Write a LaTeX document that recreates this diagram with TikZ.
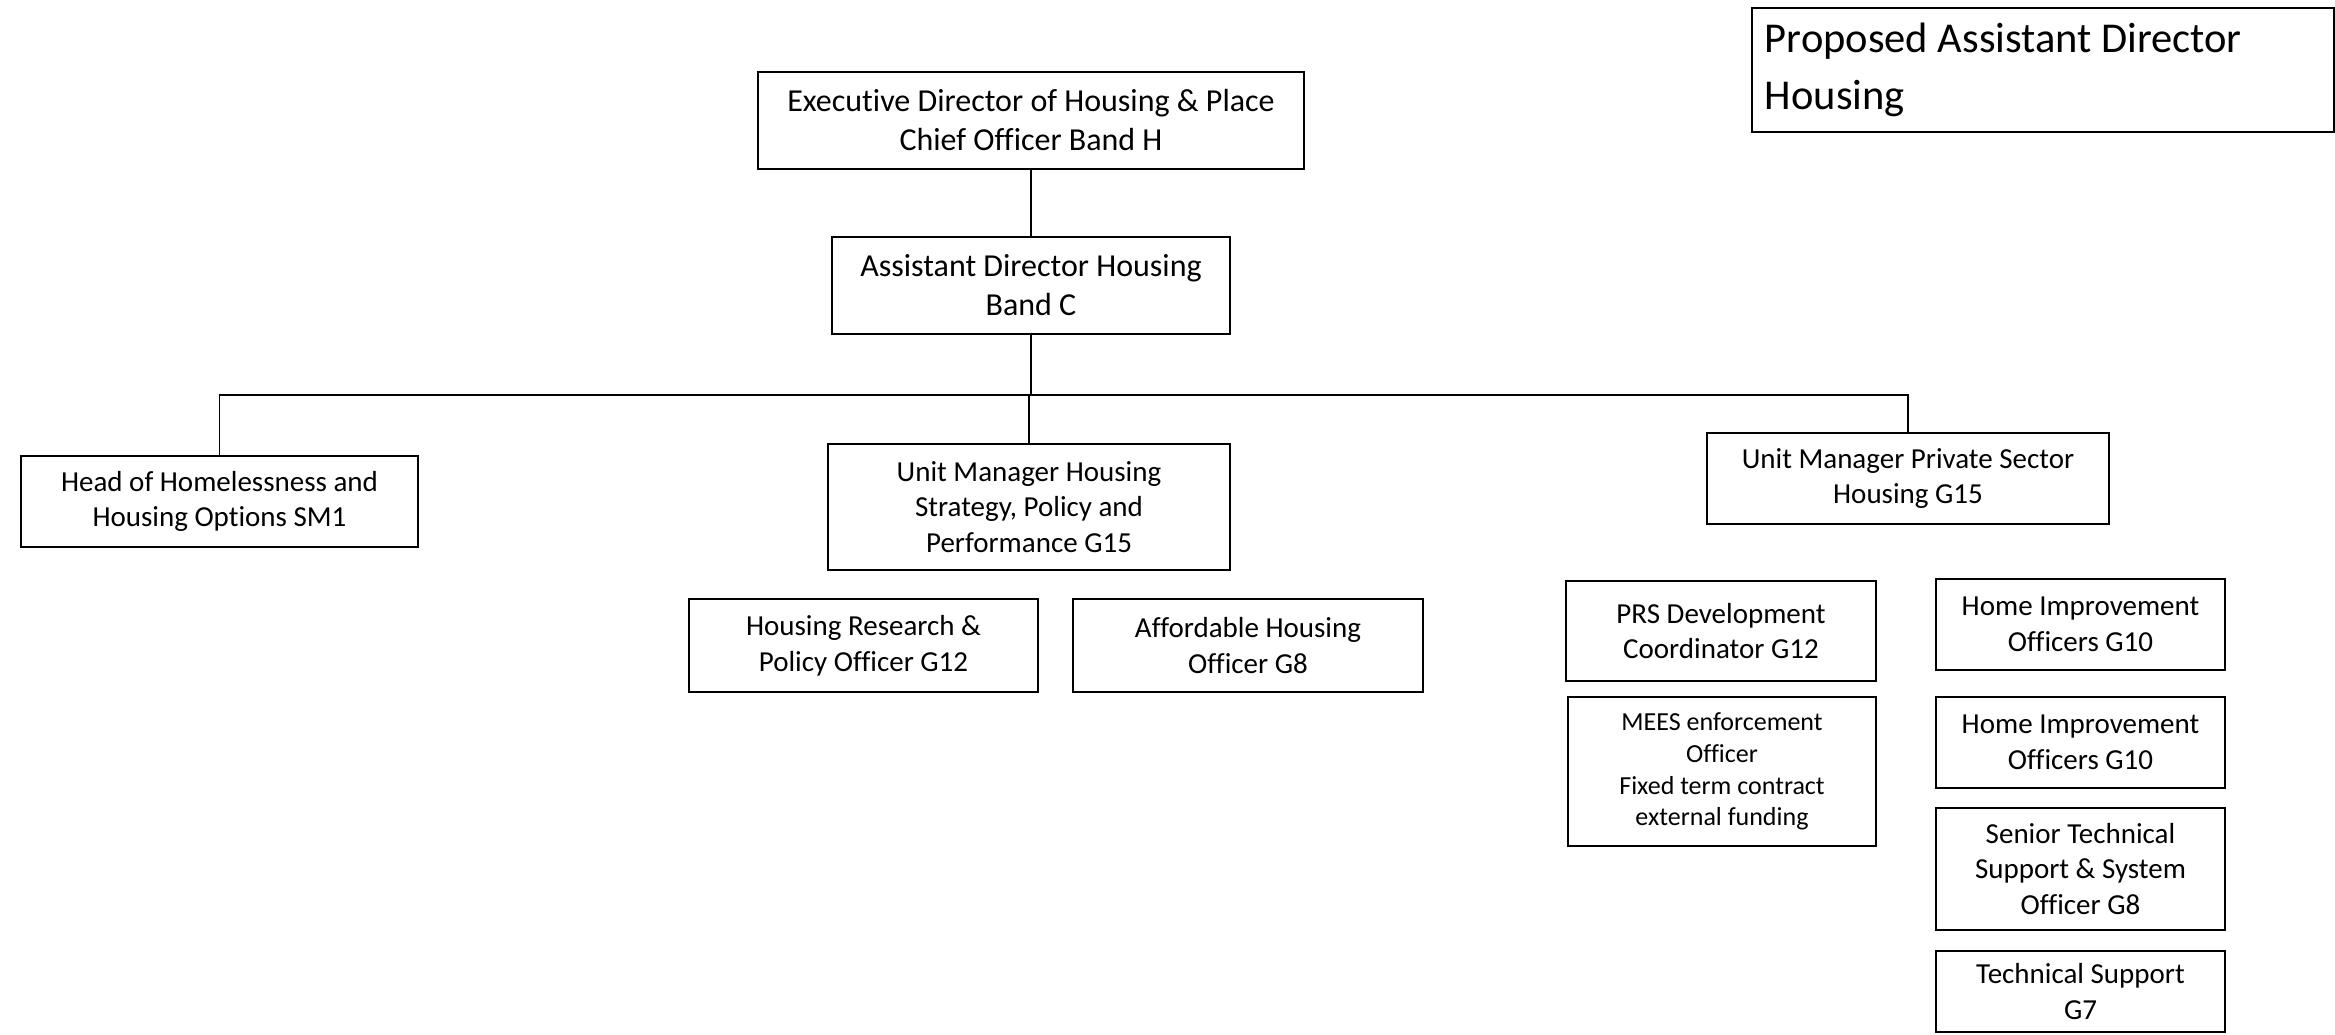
\documentclass[tikz,border=0pt]{standalone}
\usepackage{fontspec}
\setmainfont{Carlito}[Ligatures=NoCommon]
\begin{document}
\begin{tikzpicture}[x=1pt,y=-1pt,
  box/.style={draw=black,line width=1.8pt,rectangle,inner sep=0pt,align=center,text=black},
  big/.style={font=\fontsize{32}{39}\selectfont},
  mid/.style={font=\fontsize{29}{35.6}\selectfont},
  small/.style={font=\fontsize{26}{31.7}\selectfont},
  conn/.style={draw=black,line width=1.3pt}]
\useasboundingbox (0,0) rectangle (2335,1035);
\node[box,big,minimum width=546pt,minimum height=97pt] (exec) at (1031,120.5) {Executive Director of Housing \& Place\\Chief Officer Band H};
\node[box,big,minimum width=398pt,minimum height=97pt] (asst) at (1031,285.5) {Assistant Director Housing\\Band C};
\node[box,mid,minimum width=397pt,minimum height=91pt] (head) at (219.5,501.5) {Head of Homelessness and\\Housing Options SM1};
\node[box,mid,minimum width=402pt,minimum height=126pt] (umh) at (1029,507) {Unit Manager Housing\\Strategy, Policy and\\Performance G15};
\node[box,mid,minimum width=349pt,minimum height=93pt] (hrp) at (863.5,645.5) {Housing Research \&\\Policy Officer G12};
\node[box,mid,minimum width=350pt,minimum height=93pt] (aff) at (1248,645.5) {Affordable Housing\\Officer G8};
\node[box,mid,minimum width=402pt,minimum height=91pt] (umps) at (1908,478.5) {Unit Manager Private Sector\\Housing G15};
\node[box,mid,minimum width=310pt,minimum height=100pt] (prs) at (1721,631) {PRS Development\\Coordinator G12};
\node[box,small,minimum width=308pt,minimum height=149pt] (mees) at (1722,771.5) {MEES enforcement\\Officer\\Fixed term contract\\external funding};
\node[box,mid,minimum width=289pt,minimum height=91pt] (hi1) at (2080.5,624.5) {Home Improvement\\Officers G10};
\node[box,mid,minimum width=289pt,minimum height=91pt] (hi2) at (2080.5,742.5) {Home Improvement\\Officers G10};
\node[box,mid,minimum width=289pt,minimum height=122pt] (sts) at (2080.5,869) {Senior Technical\\Support \& System\\Officer G8};
\node[box,mid,minimum width=289pt,minimum height=81pt] (ts) at (2080.5,991.5) {Technical Support\\G7};
\node[box,font=\fontsize{42.5}{51}\selectfont,align=flush left,anchor=north west,minimum width=582pt,minimum height=124pt,text width=556pt,inner xsep=13pt,inner ysep=0pt] (prop) at (1751,7) {\vspace*{7pt}Proposed Assistant Director\\Housing};
\coordinate (bus) at (1031,395);
\draw[conn] (exec.south) -- (asst.north);
\draw[conn] (asst.south) -- (asst.south |- bus);
\draw[conn] (head.north) -- (head.north |- bus) -- (umps.north |- bus) -- (umps.north);
\draw[conn] (umh.north) -- (umh.north |- bus);
\end{tikzpicture}
\end{document}
